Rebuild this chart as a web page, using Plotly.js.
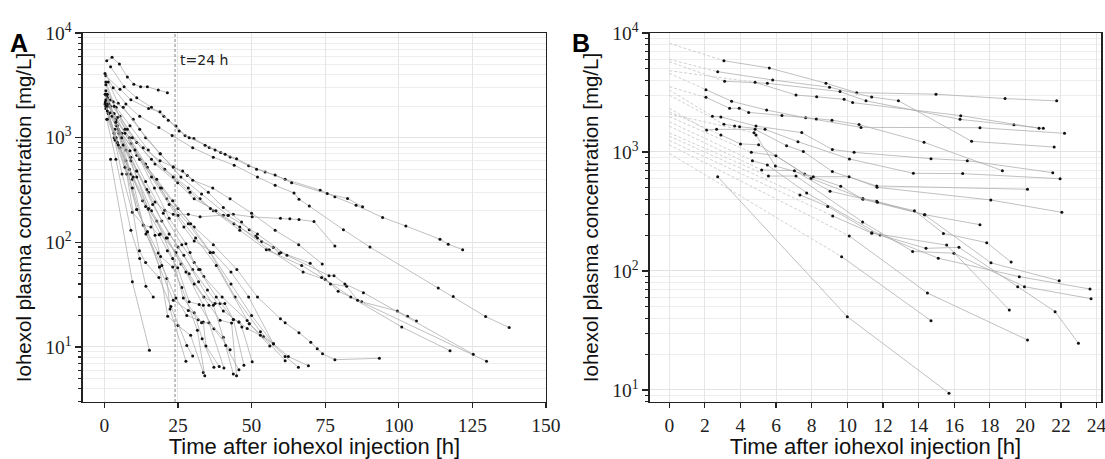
<!DOCTYPE html>
<html><head><meta charset="utf-8">
<script src="https://cdn.plot.ly/plotly-3.0.1.min.js"></script>
<style>html,body{margin:0;padding:0;background:#fff}#chart{width:1105px;height:459px}</style>
</head><body><div id="chart"></div>
<script>
// ---------- Panel A: full profiles (time h, concentration mg/L) ----------
const aTimes = [
 [0.8,2.6,5.1,7.8,10,12.3,14.6,18.3,21.4],
 [2.1,6.7,11,16,20.2,24.3,27.4,30.4,35.6,39.5,42.7,49,54.6,61.4,73.3,78.3,85.5,94.5,102.4,114,116.8,121.7],
 [0.5,5.3,9,15,18.9,21.7,25.4,28.8,34.2,37.6,41,44.9,51.7,58,63.6,75.7,82.6,87.7],
 [0.2,3,7.3,12,18.5,23,30,37,44.1,52,58,64.4,66.1,69.6,81.2,90.2,113.4,118.5,129.5,137.5],
 [3.6,7.3,11,15,17.2,20.5,23.4,28.5,32.5,40.4,42.1,43.8,50.2,59.8,63,66.1,71.2,78.3],
 [1.3,4.7,9.8,14,18.9,23.4,28.2,35.3,40.4,46.6,49.2,51.4,53.4,57.4,59.4],
 [0.5,4,8.7,14.9,20.5,28.5,32.5,37,44,52,60,69.9,79.4,87.4,99.5,103,106],
 [1,5.3,11,17.2,24.9,30.5,37.9,46,56,67.5,75,83.7,101,117.4],
 [1,4.4,9.5,16,23.4,29.1,36,46,55,67,73.8,76.8,82.3,86,129.8],
 [2,6.4,12,19,26,33,42,52,62,76.3,78,81.7,88,125.3],
 [0.5,3.9,8.5,14,19.5,25,30.5,37,45,52,59.8,61.4,66.1,70.1,72.3,74.1,78.3,93.4],
 [1,4,9,14.6,21.2,28.5,35.9,44.4,53,61.4,65.9],
 [2,5.9,11,17.8,23.2,29.3,36,43,50,57.4,62.5,69.3],
 [0.3,3.3,7,12,19,25,31,38,49.2,54,61.4],
 [2.1,9.5,15.3],
 [0.5,3,7,12,17,22,27.7,29.1,30.5,32.5,33.8,40,48.5,49.2,56.2],
 [1.5,5,10.4,16,22,27,30.5,37,43,49,57.4],
 [0.5,3.3,7.8,13.2,18.9,23.4,26.6,30,36.8,42.7,50,58,66,74],
 [0.8,3.9,9,12,14.1,16.6],
 [0.3,3.3,6,9.5,13.2,18.7,21.5,25,29.3,33.6],
 [1,4,7.3,11,14.6,18.3,21.2,22.3,27.7],
 [0.5,3.6,7.6,11.9,14,18.5,22.6,28,30],
 [2,5,9,14.9,17.2,19.1,23.2,26.3,31.6,34.1],
 [1,4.7,9.5,13.2,15.8,18.6,21.4,24.9,28.8,32.2,37.2,42.7],
 [0.2,3.3,7,11,14.6,18.7,23.4,28.5,30.5,33.2,37.2],
 [1.3,5.3,9.5,14.1,19.5,24.3,28,31.9,33.6,34.5,39],
 [0.5,4,8.5,13,17.8,23.2,26.8,33,35.5,40.4,43.8],
 [1,4.4,9,14,19,24.3,28.8,33.8,37.6,39.3,40.9,43.8,45.7,46.7,50.2],
 [2.6,6.4,11,16,21.4,26,30.5,35.5,39.3,43.2,44.9],
 [0.8,4.4,9,14.4,19.5,25,30,35,40.4,45.7,48.5,53,57.4],
 [1.5,5.9,11,16.4,22,27,32,37,41.2,45.7],
 [0.3,3.9,8.7,14,20,26.3,32,38,43.8,47.4],
 [1,4.7,9.8,15,21,27.7,33.6,40.6]
];
const aConc = [
 [5430,5850,5050,3800,3240,3060,3060,2850,2690],
 [4760,3060,2400,1950,1600,1290,1050,980,805,721,655,540,470,400,315,272,226,173,143,107,96,85],
 [3900,2900,2300,1900,1770,1470,1160,1000,847,760,695,630,500,440,370,292,262,219],
 [4110,3000,2100,1600,1250,1050,800,650,546,420,350,296,258,222,132,90,36.6,30.4,19.5,15.3],
 [1200,760,480,300,243,202,185,185,175,181,181,185,175,170,168,165,158,92],
 [3400,2130,1500,1000,700,525,436,300,215,156,132,114,102,89,78],
 [2800,1950,1300,760,500,330,260,200,150,110,80,63,34,27,22,19.6,17.7],
 [2300,1600,900,560,370,260,200,140,85,52,44,30,15.5,9.2],
 [2000,1560,1000,620,420,300,210,130,85,60,46,40,38,28,7.3],
 [2290,1950,1200,700,420,290,180,120,75,48,48,40,33,8.5],
 [2300,1500,1000,560,330,210,140,95,55,30,18.6,17,13.7,11.1,9.6,8.6,7.55,7.8],
 [2100,1480,880,520,260,150,80,30,14,8.1,6.4],
 [1725,1100,680,400,250,150,80,40,20,10.7,8.1,6.6],
 [2600,1700,1100,620,330,180,110,60,16.7,12.5,7.4],
 [622,42,9.3],
 [3400,2200,1200,620,330,170,97,80,64,55,47,30,17.9,16.7,10.2],
 [1700,1150,760,420,230,140,103,80,52,30,10.7],
 [3200,2000,1200,800,600,525,479,392,330,260,190,130,95,62],
 [1500,620,130,70,38,30],
 [2200,1000,450,194,146,58,19.7,16,12.9,5.7],
 [2600,1300,600,206,126,79,45,23,7.3],
 [1900,950,450,83,64,46,24.4,10.3,8.2],
 [2000,1100,600,206,117,73,58,37,14.4,5.3],
 [2400,1200,400,146,140,118,83,57,27,25.5,14.9,9.4],
 [2100,1100,520,206,126,58,27.9,22.3,21.2,12,6.4],
 [1700,800,330,120,60,29.3,20,18.2,17.3,10.2,6.5],
 [2000,1000,500,250,160,70,29.3,17,17,12.4,5.5],
 [1800,900,450,220,120,80,50,30,26,26,26,18.3,17.3,15.5,7.2],
 [1600,850,420,200,110,62,40,25,18,16.9,5.3],
 [2500,1300,650,320,160,90,55,35,22,17.3,15,12.9,10.7],
 [2100,1000,480,230,120,75,42,25,10.3,6.05],
 [2600,1400,750,380,190,95,55,30,18.3,6.7],
 [1500,850,420,210,110,52,25,6.3]
];

// ---------- Panel B: first 24 h, with back-extrapolation to t=0 ----------
const bStartTime = 0;
const bStartConc = [8190,6010,5740,4820,4580,3540,3320,3010,2330,2180,2085,1980,1800,1650,1450,1360,1250,1150,975,null];
const bTimes = [
 [3.07,5.62,8.8,10.53,14.98,18.86,21.76],
 [2.72,5.81,9.0,11.37,12.87,16.98,21.62],
 [3.11,5.51,9.59,11.05,16.33,19.36,21.01],
 [4.82,7.12,8.28,9.82,10.3,16.37,20.77],
 [2.06,3.5,5.47,7.66,10.77,17.45,22.2],
 [2.06,3.39,3.93,4.46,6.33,8.26,9.14,10.66,14.31,18.71],
 [2.42,2.9,4.87,7.44,9.16,10.38,14.7,16.74,21.54],
 [3.07,3.67,3.95,5.38,7.23,10.12,13.71,16.48,21.95],
 [2.1,2.66,4.82,6.59,7.53,9.16,11.65,20.12],
 [2.9,4.0,5.02,7.6,9.63,10.88,14.36,17.45],
 [4.76,4.87,5.96,8.09,10.1,11.67,18.06,22.05],
 [4.61,5.99,7.96,10.87,11.65,14.33,18.07,21.9],
 [4.67,5.51,7.72,11.84,15.11,19.66,23.63],
 [5.19,7.03,9.03,11.69,13.77,15.4,17.83,19.2],
 [5.57,7.12,10.86,13.67,15.99,19.95,23.69],
 [7.34,8.9,11.38,14.42,16.27,19.57,21.67,22.98],
 [9.18,11.37,15.58,19.1],
 [10.11,14.5,20.12],
 [9.68,14.7],
 [2.72,10.0,15.71]
];
const bConc = [
 [5850,5080,3780,3150,3060,2810,2690],
 [4730,4030,3500,2900,2700,1230,1100],
 [3930,3780,3220,2690,1880,1690,1580],
 [3850,3010,2910,2770,2600,2020,1585],
 [3340,2670,2250,1940,1610,1600,1435],
 [2880,2330,2330,2150,2030,1890,1850,1700,1205,697],
 [2000,1970,1650,1455,1050,993,879,845,670],
 [1710,1650,1630,1550,1220,873,662,658,596],
 [1530,1550,1550,1130,1010,684,518,486],
 [1390,1170,1150,653,515,400,297,245],
 [1450,1390,762,620,620,505,395,311],
 [993,931,600,406,385,297,117,82.8],
 [846,778,453,201,128,89.6,70.6],
 [706,697,468,378,321,207,173,119],
 [628,628,258,146,141,73.8,58.5],
 [436,349,210,155,158,73.8,45.5,24.7],
 [290,208,165,47],
 [197,65.3,26.3],
 [132,38.2],
 [620,41.3,9.4]
];

const xTicksA = [0,25,50,75,100,125,150];
const xTicksB = [0,2,4,6,8,10,12,14,16,18,20,22,24];
const yTickVals = [10,100,1000,10000];
const yTickText = ['10<sup>1</sup>','10<sup>2</sup>','10<sup>3</sup>','10<sup>4</sup>'];

const minorVals = [];
[1,10,100,1000].forEach(d => { for (let k = 2; k <= 9; k++) minorVals.push(k * d); });

const LINE = '#ababab', DOT = '#111';
const traces = [];
aTimes.forEach((t, i) => traces.push({
  x: t, y: aConc[i], xaxis: 'x', yaxis: 'y', type: 'scatter', mode: 'lines+markers',
  line: {color: LINE, width: 0.75}, marker: {color: DOT, size: 3, symbol: 'circle'},
  hoverinfo: 'skip', showlegend: false
}));
bTimes.forEach((t, i) => {
  if (bStartConc[i] !== null) traces.push({
    x: [bStartTime, t[0]], y: [bStartConc[i], bConc[i][0]], xaxis: 'x2', yaxis: 'y2',
    type: 'scatter', mode: 'lines', line: {color: '#c4c4c4', width: 0.8, dash: '3px,2px'},
    hoverinfo: 'skip', showlegend: false
  });
  traces.push({
    x: t, y: bConc[i], xaxis: 'x2', yaxis: 'y2', type: 'scatter', mode: 'lines+markers',
    line: {color: LINE, width: 0.75}, marker: {color: DOT, size: 3, symbol: 'circle'},
    hoverinfo: 'skip', showlegend: false
  });
});

const tickFont = {family: 'Liberation Serif, serif', size: 19.5, color: '#222'};
const titleFontX = {family: 'Liberation Sans, Arial, sans-serif', size: 22, color: '#111'};
const titleFontY = {family: 'Liberation Sans, Arial, sans-serif', size: 20.5, color: '#111'};
function xAx(domain, range, vals, anchor) {
  return {domain, range, anchor, tickmode: 'array', tickvals: vals, showgrid: true, gridcolor: '#e6e6e6',
    gridwidth: 1, zeroline: false, showline: true, linecolor: '#222', linewidth: 1.5, mirror: true,
    ticks: 'outside', ticklen: 5, tickcolor: '#222', tickwidth: 1.2, tickfont: tickFont,
    ticklabeloverflow: 'allow',
    title: {text: 'Time after iohexol injection [h]', font: titleFontX, standoff: 2}, automargin: false};
}
function yAx(domain, range, anchor) {
  return {domain, range, anchor, type: 'log', tickmode: 'array', tickvals: yTickVals, ticktext: yTickText,
    showgrid: true, gridcolor: '#e3e3e3', gridwidth: 1, zeroline: false, showline: true, linecolor: '#222',
    linewidth: 1.5, mirror: true, ticks: 'outside', ticklen: 6, tickcolor: '#222', tickwidth: 1.2,
    tickfont: tickFont,
    minor: {tickmode: 'array', tickvals: minorVals, ticks: 'outside', ticklen: 3, tickcolor: '#222',
      showgrid: true, gridcolor: '#eeeeee', gridwidth: 1},
    title: {text: 'Iohexol plasma concentration [mg/L]', font: titleFontY, standoff: 8}, automargin: false};
}

const layout = {
  width: 1105, height: 459, margin: {l: 0, r: 0, t: 0, b: 0},
  paper_bgcolor: '#fff', plot_bgcolor: '#fff', showlegend: false,
  xaxis: xAx([0.0751, 0.4941], [-7.27, 150], xTicksA, 'y'),
  yaxis: yAx([0.1242, 0.9281], [0.474, 4], 'x'),
  xaxis2: xAx([0.5882, 0.9964], [-1.084, 24.25], xTicksB, 'y2'),
  yaxis2: yAx([0.1242, 0.9281], [0.899, 4], 'x2'),
  shapes: [{type: 'line', xref: 'x', yref: 'y domain', x0: 24, x1: 24, y0: 0, y1: 1,
    line: {color: '#777', width: 0.9, dash: '3px,2px'}}],
  annotations: [
    {text: '<b>A</b>', xref: 'paper', yref: 'paper', x: 8/1105, y: 1 - 27/459, xanchor: 'left',
      showarrow: false, font: {family: 'Liberation Sans, Arial, sans-serif', size: 25, color: '#000'}},
    {text: '<b>B</b>', xref: 'paper', yref: 'paper', x: 570/1105, y: 1 - 27/459, xanchor: 'left',
      showarrow: false, font: {family: 'Liberation Sans, Arial, sans-serif', size: 25, color: '#000'}},
    {text: 't=24 h', xref: 'x', yref: 'y', x: 25.0, y: 3.742, xanchor: 'left', showarrow: false,
      font: {family: 'DejaVu Sans, sans-serif', size: 14, color: '#222'}}
  ]
};
Plotly.newPlot('chart', traces, layout, {staticPlot: true, displayModeBar: false});
</script></body></html>
